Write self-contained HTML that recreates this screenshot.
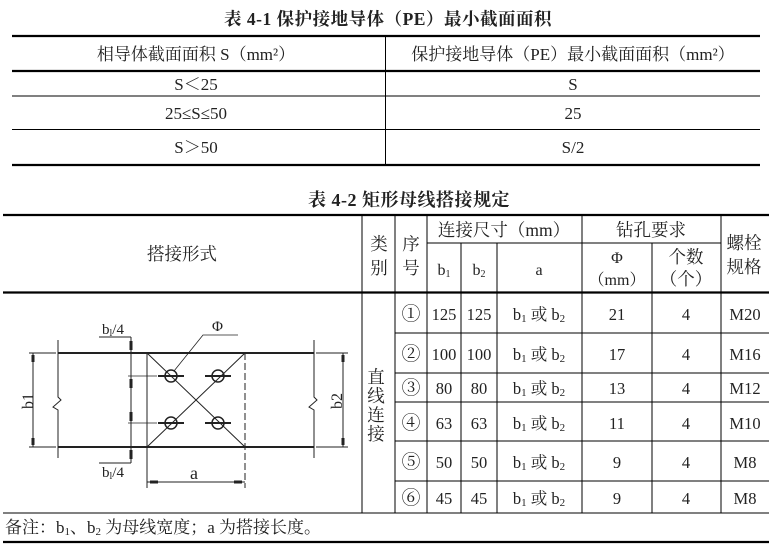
<!DOCTYPE html>
<html><head><meta charset="utf-8"><style>
html,body{margin:0;padding:0;background:#fff;}
svg{display:block;}
text{font-family:"Liberation Serif","Noto Serif CJK SC",serif;fill:#222;}
.b{font-weight:bold;}
</style></head><body>
<svg width="776" height="555" viewBox="0 0 776 555" xmlns="http://www.w3.org/2000/svg">
<!-- Table 1 -->
<text x="388" y="25" font-size="17.5" text-anchor="middle" class="b" letter-spacing="0.5">表 4-1  保护接地导体（PE）最小截面面积</text>
<g stroke="#000">
<line x1="12" y1="36" x2="760" y2="36" stroke-width="2.2"/>
<line x1="12" y1="71" x2="760" y2="71" stroke-width="2.2"/>
<line x1="12" y1="96" x2="760" y2="96" stroke-width="1"/>
<line x1="12" y1="129.5" x2="760" y2="129.5" stroke-width="1"/>
<line x1="12" y1="165" x2="760" y2="165" stroke-width="2.2"/>
<line x1="385.5" y1="36" x2="385.5" y2="165" stroke-width="1"/>
</g>
<g font-size="17" text-anchor="middle">
<text x="196" y="60">相导体截面面积 S（mm²）</text>
<text x="573" y="60">保护接地导体（PE）最小截面面积（mm²）</text>
<text x="196" y="90">S＜25</text>
<text x="573" y="90">S</text>
<text x="196" y="119">25≤S≤50</text>
<text x="573" y="119">25</text>
<text x="196" y="153">S＞50</text>
<text x="573" y="153">S/2</text>
</g>
<!-- Table 2 -->
<text x="409" y="206" font-size="18" text-anchor="middle" class="b" letter-spacing="0.5">表 4-2  矩形母线搭接规定</text>
<g stroke="#000" stroke-width="1">
<line x1="3" y1="215" x2="769" y2="215" stroke-width="2.2"/>
<line x1="3" y1="292.5" x2="769" y2="292.5" stroke-width="2.2"/>
<line x1="427" y1="243" x2="721" y2="243"/>
<line x1="395" y1="333" x2="769" y2="333"/>
<line x1="395" y1="373" x2="769" y2="373"/>
<line x1="395" y1="402" x2="769" y2="402"/>
<line x1="395" y1="441" x2="769" y2="441"/>
<line x1="395" y1="481" x2="769" y2="481"/>
<line x1="3" y1="513" x2="769" y2="513"/>
<line x1="3" y1="542" x2="769" y2="542" stroke-width="2.2"/>
<line x1="362" y1="215" x2="362" y2="513"/>
<line x1="395" y1="215" x2="395" y2="513"/>
<line x1="427" y1="215" x2="427" y2="513"/>
<line x1="461" y1="243" x2="461" y2="513"/>
<line x1="497" y1="243" x2="497" y2="513"/>
<line x1="582" y1="215" x2="582" y2="513"/>
<line x1="652" y1="243" x2="652" y2="513"/>
<line x1="721" y1="215" x2="721" y2="513"/>
</g>
<g font-size="17.5" text-anchor="middle">
<text x="182" y="260">搭接形式</text>
<text x="379" y="250">类</text><text x="379" y="274">别</text>
<text x="411" y="250">序</text><text x="411" y="274">号</text>
<text x="504" y="236">连接尺寸（mm）</text>
<text x="651" y="236">钻孔要求</text>
<text x="744" y="249">螺栓</text><text x="744" y="273">规格</text>
<text x="444" y="275" font-size="16">b<tspan font-size="10" dy="2">1</tspan></text>
<text x="479" y="275" font-size="16">b<tspan font-size="10" dy="2">2</tspan></text>
<text x="539" y="275" font-size="16">a</text>
<text x="617" y="263" font-size="16">Φ</text>
<text x="617" y="285" font-size="16">（mm）</text>
<text x="686" y="263">个数</text>
<text x="686" y="285">（个）</text>
<text x="376" y="383">直</text><text x="376" y="402">线</text><text x="376" y="421">连</text><text x="376" y="440">接</text>
</g>
<g font-size="16.5" text-anchor="middle">
<text x="411" y="320" font-size="19">①</text><text x="444" y="320">125</text><text x="479" y="320">125</text><text x="539" y="320">b<tspan font-size="11" dy="2">1</tspan><tspan dy="-2"> 或 b</tspan><tspan font-size="11" dy="2">2</tspan></text><text x="617" y="320">21</text><text x="686" y="320">4</text><text x="745" y="320">M20</text>
<text x="411" y="360" font-size="19">②</text><text x="444" y="360">100</text><text x="479" y="360">100</text><text x="539" y="360">b<tspan font-size="11" dy="2">1</tspan><tspan dy="-2"> 或 b</tspan><tspan font-size="11" dy="2">2</tspan></text><text x="617" y="360">17</text><text x="686" y="360">4</text><text x="745" y="360">M16</text>
<text x="411" y="394" font-size="19">③</text><text x="444" y="394">80</text><text x="479" y="394">80</text><text x="539" y="394">b<tspan font-size="11" dy="2">1</tspan><tspan dy="-2"> 或 b</tspan><tspan font-size="11" dy="2">2</tspan></text><text x="617" y="394">13</text><text x="686" y="394">4</text><text x="745" y="394">M12</text>
<text x="411" y="429" font-size="19">④</text><text x="444" y="429">63</text><text x="479" y="429">63</text><text x="539" y="429">b<tspan font-size="11" dy="2">1</tspan><tspan dy="-2"> 或 b</tspan><tspan font-size="11" dy="2">2</tspan></text><text x="617" y="429">11</text><text x="686" y="429">4</text><text x="745" y="429">M10</text>
<text x="411" y="468" font-size="19">⑤</text><text x="444" y="468">50</text><text x="479" y="468">50</text><text x="539" y="468">b<tspan font-size="11" dy="2">1</tspan><tspan dy="-2"> 或 b</tspan><tspan font-size="11" dy="2">2</tspan></text><text x="617" y="468">9</text><text x="686" y="468">4</text><text x="745" y="468">M8</text>
<text x="411" y="504" font-size="19">⑥</text><text x="444" y="504">45</text><text x="479" y="504">45</text><text x="539" y="504">b<tspan font-size="11" dy="2">1</tspan><tspan dy="-2"> 或 b</tspan><tspan font-size="11" dy="2">2</tspan></text><text x="617" y="504">9</text><text x="686" y="504">4</text><text x="745" y="504">M8</text>
</g>
<text x="5" y="533" font-size="17">备注：b<tspan font-size="11" dy="2">1</tspan><tspan dy="-2">、b</tspan><tspan font-size="11" dy="2">2</tspan><tspan dy="-2"> 为母线宽度；a 为搭接长度。</tspan></text>
<!-- Diagram -->
<g stroke="#222" fill="none">
<line x1="58" y1="353" x2="314" y2="353" stroke-width="2"/>
<line x1="58" y1="447" x2="314" y2="447" stroke-width="2"/>
<polyline points="58,340 58,397 61,400 53,407 58,410 58,458" stroke-width="1"/>
<polyline points="314,340 314,397 317,400 309,407 314,410 314,458" stroke-width="1"/>
<line x1="147" y1="353" x2="147" y2="488" stroke-width="1"/>
<line x1="245" y1="353" x2="245" y2="488" stroke-width="1" stroke-dasharray="7,3"/>
<line x1="147" y1="353" x2="245" y2="447" stroke-width="1"/>
<line x1="245" y1="353" x2="147" y2="447" stroke-width="1"/>
<circle cx="171" cy="376" r="6" stroke-width="1.5"/>
<circle cx="218" cy="376" r="6" stroke-width="1.5"/>
<circle cx="171" cy="423" r="6" stroke-width="1.5"/>
<circle cx="218" cy="423" r="6" stroke-width="1.5"/>
<g stroke-width="2">
<line x1="158" y1="376" x2="184" y2="376"/><line x1="205" y1="376" x2="231" y2="376"/>
<line x1="158" y1="423" x2="184" y2="423"/><line x1="205" y1="423" x2="231" y2="423"/>
</g>
<line x1="29" y1="353" x2="56" y2="353" stroke-width="1"/>
<line x1="29" y1="447" x2="56" y2="447" stroke-width="1"/>
<line x1="33" y1="353" x2="33" y2="447" stroke-width="1"/>
<line x1="316" y1="353" x2="348" y2="353" stroke-width="1"/>
<line x1="316" y1="447" x2="348" y2="447" stroke-width="1"/>
<line x1="343" y1="353" x2="343" y2="447" stroke-width="1"/>
<line x1="131" y1="337" x2="131" y2="463" stroke-width="1"/>
<line x1="99" y1="337" x2="131" y2="337" stroke-width="1"/>
<line x1="99" y1="463" x2="131" y2="463" stroke-width="1"/>
<line x1="128" y1="376" x2="157" y2="376" stroke-width="0.8"/>
<line x1="128" y1="423" x2="157" y2="423" stroke-width="0.8"/>
<polyline points="174,371 203,335 238,335" stroke-width="0.8"/>
<line x1="147" y1="482" x2="245" y2="482" stroke-width="1"/>
</g>
<g fill="#222">
<rect x="31.5" y="355" width="3" height="7"/><rect x="31.5" y="438" width="3" height="7"/>
<rect x="341.5" y="355" width="3" height="7"/><rect x="341.5" y="438" width="3" height="7"/>
<rect x="129.5" y="341" width="3" height="9"/><rect x="129.5" y="379" width="3" height="9"/>
<rect x="129.5" y="412" width="3" height="9"/><rect x="129.5" y="450" width="3" height="9"/>
<rect x="150" y="480.5" width="8" height="3"/><rect x="234" y="480.5" width="8" height="3"/>
</g>
<g font-size="15">
<text x="102" y="334">b<tspan font-size="10" dy="2">l</tspan><tspan dy="-2">/4</tspan></text>
<text x="102" y="477">b<tspan font-size="10" dy="2">l</tspan><tspan dy="-2">/4</tspan></text>
<text x="212" y="331">Φ</text>
<text x="190" y="479" font-size="18">a</text>
<text transform="translate(33,401) rotate(-90)" text-anchor="middle" font-size="16">b1</text>
<text transform="translate(342,401) rotate(-90)" text-anchor="middle" font-size="16">b2</text>
</g>
</svg>
</body></html>
